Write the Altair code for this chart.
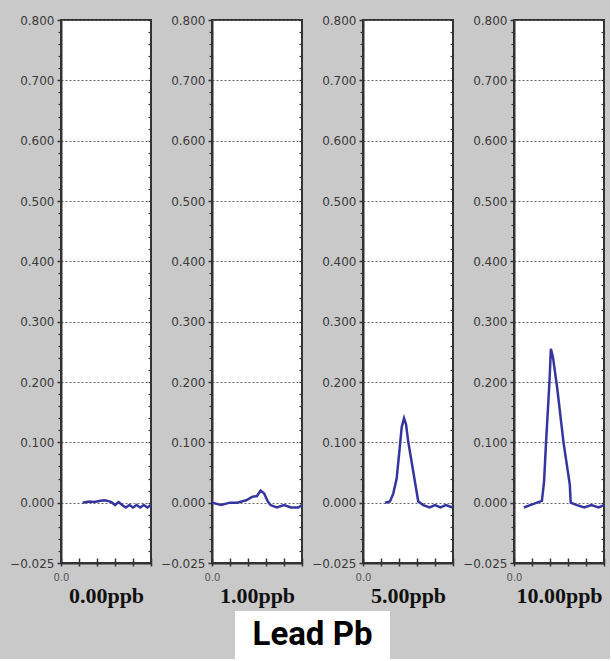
import altair as alt
import pandas as pd

# ---------------- data ----------------
panel_titles = ["0.00ppb", "1.00ppb", "5.00ppb", "10.00ppb"]

x_p1 = [1.2, 1.4, 1.6, 1.8, 2.0, 2.2, 2.4, 2.6, 2.8, 3.0, 3.2, 3.4, 3.6, 3.8, 4.0, 4.2, 4.4, 4.6, 4.8, 5.0]
y_p1 = [0.000, 0.001, 0.002, 0.001, 0.002, 0.003, 0.004, 0.003, 0.001, -0.001, 0.001, -0.001, -0.002,
        -0.001, -0.002, -0.001, -0.002, -0.001, -0.002, -0.001]

x_p2 = [0.0, 0.5, 1.0, 1.4, 1.9, 2.25, 2.5, 2.7, 2.9, 3.1, 3.25, 3.6, 4.0, 4.4, 4.8, 5.0]
y_p2 = [0.000, -0.001, 0.000, 0.000, 0.004, 0.010, 0.011, 0.020, 0.015, 0.002, -0.001, -0.002,
        -0.001, -0.002, -0.002, -0.001]

x_p3 = [1.22, 1.5, 1.68, 1.87, 2.02, 2.15, 2.28, 2.39, 2.52, 2.8, 3.07, 3.35, 3.7, 4.0, 4.3, 4.6, 4.98]
y_p3 = [0.000, 0.002, 0.015, 0.040, 0.085, 0.125, 0.140, 0.130, 0.100, 0.050, 0.002, -0.001,
        -0.002, -0.001, -0.002, -0.001, -0.002]

x_p4 = [0.55, 0.9, 1.28, 1.55, 1.67, 1.78, 1.97, 2.05, 2.17, 2.4, 2.75, 3.1, 3.15, 3.5, 3.9, 4.3, 4.7, 5.0]
y_p4 = [-0.002, -0.001, 0.000, 0.003, 0.035, 0.100, 0.200, 0.255, 0.240, 0.190, 0.100, 0.030,
        0.000, -0.001, -0.002, -0.001, -0.002, -0.001]

panel_x = [x_p1, x_p2, x_p3, x_p4]
panel_y = [y_p1, y_p2, y_p3, y_p4]

major_ticks = [-0.025, 0.0, 0.1, 0.2, 0.3, 0.4, 0.5, 0.6, 0.7, 0.8]
minor_ticks = [-0.02, -0.015, -0.01, -0.005] + [round(0.02 * i, 3) for i in range(1, 40) if i % 5 != 0]
x_ticks = [0, 1, 2, 3, 4, 5]

title_text = "Lead Pb"

# ---------------- style ----------------
H = 543
W = 90
LINE_COLOR = "#3535a0"
FRAME = "#333333"

y_scale = alt.Scale(domain=[-0.025, 0.0, 0.8], range=[H, H - H / 9, 0], nice=False, zero=False)
x_scale = alt.Scale(domain=[0, 5], nice=False, zero=False)


def x_main(title):
    return alt.X(
        "x:Q",
        scale=x_scale,
        axis=alt.Axis(
            values=x_ticks,
            labelExpr="datum.value == 0 ? '0.0' : ''",
            labelFlush=False,
            labelFont="DejaVu Sans",
            labelFontSize=10,
            labelColor="#555555",
            labelPadding=6,
            tickSize=3,
            tickColor=FRAME,
            tickWidth=1.5,
            domainColor=FRAME,
            domainWidth=2,
            grid=False,
            title=title,
            titleFont="Liberation Serif",
            titleFontSize=22,
            titleFontWeight="bold",
            titleColor="#111111",
            titlePadding=3,
        ),
    )


x_inner = alt.X(
    "x:Q",
    scale=x_scale,
    axis=alt.Axis(
        orient="bottom",
        offset=-5,
        values=x_ticks,
        labels=False,
        tickSize=5,
        tickColor=FRAME,
        tickWidth=1.5,
        domain=False,
        grid=False,
        title=None,
    ),
)

x_none = alt.X("x:Q", scale=x_scale, axis=None)


def panel(i):
    df = pd.DataFrame({"x": panel_x[i], "y": panel_y[i]})
    base = alt.Chart(df)
    main = base.mark_line(color=LINE_COLOR, strokeWidth=2.5).encode(
        x=x_main(panel_titles[i]),
        y=alt.Y(
            "y:Q",
            scale=y_scale,
            axis=alt.Axis(
                orient="left",
                values=major_ticks,
                format=".3f",
                labelFont="DejaVu Sans",
                labelFontSize=12,
                labelColor="#3a3a3a",
                labelPadding=3,
                tickSize=4,
                tickColor=FRAME,
                tickWidth=1.5,
                domainColor=FRAME,
                domainWidth=2,
                grid=True,
                gridColor="#666666",
                gridDash=[2, 2],
                gridWidth=1,
                title=None,
            ),
        ),
    )
    minor = base.mark_line(opacity=0).encode(
        x=x_inner,
        y=alt.Y(
            "y:Q",
            scale=y_scale,
            axis=alt.Axis(
                orient="left",
                values=minor_ticks,
                labels=False,
                tickSize=3,
                tickColor=FRAME,
                tickWidth=1.2,
                domain=False,
                grid=False,
                title=None,
            ),
        ),
    )
    right = base.mark_line(opacity=0).encode(
        x=x_none,
        y=alt.Y(
            "y:Q",
            scale=y_scale,
            axis=alt.Axis(
                orient="right",
                offset=-3,
                values=minor_ticks + major_ticks,
                labels=False,
                tickSize=3,
                tickColor=FRAME,
                tickWidth=1.2,
                domain=False,
                grid=False,
                title=None,
            ),
        ),
    )
    return (
        alt.layer(main, minor, right)
        .resolve_scale(x="independent", y="independent")
        .resolve_axis(x="independent", y="independent")
        .properties(
            width=W,
            height=H,
            view=alt.ViewBackground(fill="white", stroke=FRAME, strokeWidth=2),
        )
    )


panels = alt.hconcat(*[panel(i) for i in range(4)], spacing=2)

spacer = (
    alt.Chart(pd.DataFrame({"t": [""]}))
    .mark_text()
    .encode(text="t:N")
    .properties(width=174, height=48, view=alt.ViewBackground(strokeWidth=0))
)

label_chart = (
    alt.Chart(pd.DataFrame({"t": [title_text]}))
    .mark_text(font="Roboto", fontSize=33, fontWeight="bold", color="black")
    .encode(text="t:N")
    .properties(width=155, height=48, view=alt.ViewBackground(fill="white", strokeWidth=0))
)

bottom_row = alt.hconcat(spacer, label_chart, spacing=0)

chart = (
    alt.vconcat(panels, bottom_row, spacing=4)
    .properties(background="#c9c9c9", padding={"left": 8, "top": 13, "right": 0, "bottom": 0})
)

chart.save("out.html", embed_options={"renderer": "svg", "actions": False})
